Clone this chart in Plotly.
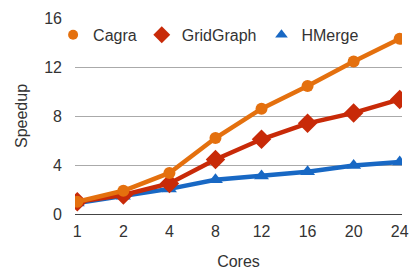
import plotly.graph_objects as go

cores = ["1", "2", "4", "8", "12", "16", "20", "24"]
cagra = [1.0, 1.9, 3.35, 6.2, 8.6, 10.45, 12.45, 14.3]
gridgraph = [1.0, 1.55, 2.5, 4.45, 6.1, 7.4, 8.25, 9.35]
hmerge = [0.9, 1.45, 2.05, 2.8, 3.1, 3.45, 3.95, 4.25]
yticks = [0, 4, 8, 12, 16]

series = [
    ("Cagra", cagra, "#E4700E", "circle", 12, 10),
    ("GridGraph", gridgraph, "#C82A08", "diamond", 15, 13),
    ("HMerge", hmerge, "#1868C4", "triangle-up", 13, 11),
]

fig = go.Figure()
# data traces, drawn bottom-up so Cagra is on top
for name, vals, color, sym, size, lsize in reversed(series):
    fig.add_trace(go.Scatter(x=cores, y=vals, name=name, mode="lines+markers",
                             showlegend=False,
                             line=dict(color=color, width=4.5),
                             marker=dict(symbol=sym, size=size, color=color)))
# legend entries (marker only)
for name, vals, color, sym, size, lsize in series:
    fig.add_trace(go.Scatter(x=[None], y=[None], name=name, mode="markers",
                             marker=dict(symbol=sym, size=lsize, color=color)))

fig.update_layout(
    width=414, height=270,
    margin=dict(l=75, r=12, t=18, b=56, autoexpand=False),
    plot_bgcolor="white", paper_bgcolor="white",
    font=dict(family="Liberation Sans, Arial, sans-serif", size=16, color="#333333"),
    showlegend=True,
    legend=dict(orientation="h", x=-0.067, y=1.001, xanchor="left", yanchor="top",
                bgcolor="rgba(0,0,0,0)", borderwidth=0,
                font=dict(size=16), itemwidth=30),
    xaxis=dict(type="category", range=[-0.05, 7.05], showgrid=False, showline=True,
               linecolor="#444444", linewidth=1, ticks="", ticklen=0, automargin=False,
               ticklabelstandoff=3,
               title=dict(text="Cores", font=dict(size=16), standoff=16)),
    yaxis=dict(range=[0, 16], tickvals=yticks, showgrid=True, gridcolor="#aaaaaa",
               gridwidth=1, zeroline=False, showline=False, ticks="", automargin=False,
               ticklabelstandoff=12,
               title=dict(text="Speedup", font=dict(size=16), standoff=12)),
)
fig.write_html("out.html", config={"displayModeBar": False},
               post_script="document.body.style.margin='0';")
